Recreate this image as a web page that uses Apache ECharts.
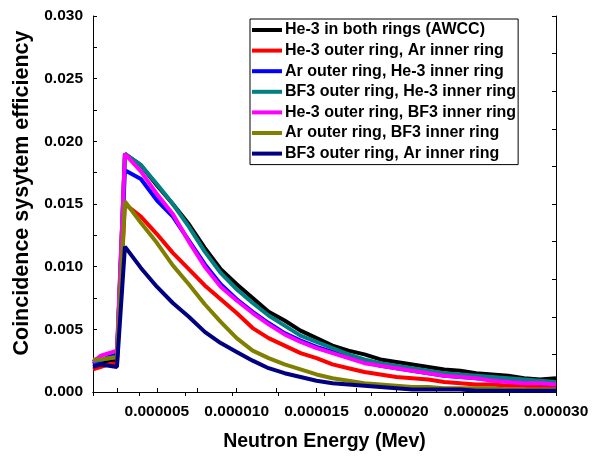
<!DOCTYPE html>
<html><head><meta charset="utf-8">
<script src="https://cdn.jsdelivr.net/npm/echarts@6/dist/echarts.min.js"></script>
<style>html,body{margin:0;padding:0;background:#fff}#c{width:598px;height:464px}</style>
</head><body><div id="c"></div>
<script>
// Neutron energy (MeV)
const energy = [1.0e-6,1.5e-6,2.0e-6,2.5e-6,3e-6,4e-6,5e-6,6e-6,7e-6,8e-6,9e-6,10e-6,11e-6,12e-6,13e-6,14e-6,15e-6,16e-6,17e-6,18e-6,19e-6,20e-6,21e-6,22e-6,23e-6,24e-6,25e-6,26e-6,27e-6,28e-6,29e-6,30e-6];
const names = ["He-3 in both rings (AWCC)","He-3 outer ring, Ar inner ring","Ar outer ring, He-3 inner ring","BF3 outer ring, He-3 inner ring","He-3 outer ring, BF3 inner ring","Ar outer ring, BF3 inner ring","BF3 outer ring, Ar inner ring"];
const colors = ["#000000","#ff0000","#0000ff","#008080","#ff00ff","#808000","#000080"];
const he3Both    = [0.0023,0.0024,0.0025,0.0026,0.0190,0.0181,0.0165,0.0150,0.0134,0.0115,0.0098,0.0086,0.0075,0.0064,0.0057,0.0049,0.0043,0.0037,0.0033,0.0030,0.0026,0.0024,0.0022,0.0020,0.0018,0.0017,0.0015,0.0014,0.0013,0.0011,0.0010,0.0011];
const he3OutArIn = [0.0018,0.0020,0.0022,0.0023,0.0150,0.0140,0.0126,0.0111,0.0098,0.0085,0.0074,0.0063,0.0051,0.0043,0.0037,0.0031,0.0027,0.0022,0.0019,0.0016,0.0014,0.0012,0.0011,0.0010,0.0008,0.0007,0.0006,0.0006,0.0005,0.0005,0.0004,0.0004];
const arOutHe3In = [0.0022,0.0025,0.0028,0.0030,0.0177,0.0170,0.0153,0.0140,0.0121,0.0102,0.0086,0.0074,0.0064,0.0055,0.0047,0.0041,0.0036,0.0032,0.0028,0.0024,0.0021,0.0019,0.0017,0.0015,0.0013,0.0012,0.0011,0.0010,0.0009,0.0008,0.0007,0.0006];
const bf3OutHe3In = [0.0024,0.0026,0.0027,0.0028,0.0190,0.0181,0.0166,0.0150,0.0132,0.0112,0.0095,0.0082,0.0071,0.0061,0.0053,0.0045,0.0040,0.0035,0.0030,0.0026,0.0023,0.0021,0.0019,0.0017,0.0015,0.0014,0.0013,0.0012,0.0011,0.0010,0.0009,0.0008];
const he3OutBf3In = [0.0024,0.0029,0.0031,0.0033,0.0190,0.0176,0.0158,0.0142,0.0120,0.0100,0.0084,0.0073,0.0063,0.0054,0.0046,0.0040,0.0035,0.0031,0.0027,0.0023,0.0021,0.0019,0.0017,0.0015,0.0013,0.0012,0.0011,0.0009,0.0008,0.0007,0.0007,0.0006];
const arOutBf3In = [0.0026,0.0026,0.0027,0.0028,0.0152,0.0135,0.0119,0.0101,0.0086,0.0070,0.0056,0.0043,0.0033,0.0027,0.0022,0.0018,0.0014,0.0011,0.0009,0.0007,0.0006,0.0005,0.0004,0.0004,0.0003,0.0003,0.0003,0.0003,0.0002,0.0002,0.0002,0.0002];
const bf3OutArIn = [0.0020,0.0022,0.0021,0.0020,0.0116,0.0099,0.0084,0.0071,0.0060,0.0048,0.0039,0.0032,0.0025,0.0019,0.0015,0.0012,0.0009,0.0007,0.0006,0.0005,0.0004,0.0003,0.0002,0.0002,0.0002,0.0002,0.0001,0.0001,0.0001,0.0001,0.0001,0.0001];
const seriesValues = [he3Both,he3OutArIn,arOutHe3In,bf3OutHe3In,he3OutBf3In,arOutBf3In,bf3OutArIn];
const xTicks = [2.5e-6,5e-6,7.5e-6,10e-6,12.5e-6,15e-6,17.5e-6,20e-6,22.5e-6,25e-6,27.5e-6,30e-6];
const xLabels = [5e-6,10e-6,15e-6,20e-6,25e-6,30e-6];
const yTicks = [0,0.0025,0.005,0.0075,0.01,0.0125,0.015,0.0175,0.02,0.0225,0.025,0.0275,0.03];
const yLabels = [0,0.005,0.01,0.015,0.02,0.025,0.03];

const FONT = "'Liberation Sans', Arial, sans-serif";
const chart = echarts.init(document.getElementById('c'), null, {renderer:'canvas'});
const axisLine = {show:true, lineStyle:{color:'#000', width:1}};
chart.setOption({
  animation:false,
  backgroundColor:'#fff',
  grid:{left:93, right:42, top:16, bottom:72, containLabel:false},
  legend:{
    orient:'vertical', left:250, top:19, icon:'rect', itemWidth:30, itemHeight:4, itemGap:4.6,
    padding:[3,2,3,2], borderColor:'#000', borderWidth:1, backgroundColor:'#fff',
    textStyle:{fontFamily:FONT, fontWeight:'bold', fontSize:16, color:'#000', padding:[0,0,0,-2]},
    data:names
  },
  xAxis:[{
    type:'value', min:1e-6, max:30e-6, position:'bottom',
    axisLine, splitLine:{show:false},
    axisTick:{show:true, inside:true, length:4, customValues:xTicks, lineStyle:{color:'#000'}},
    axisLabel:{show:true, customValues:xLabels, margin:12, fontFamily:FONT, fontWeight:'bold', fontSize:15.5, color:'#000',
      formatter:v=>v.toFixed(6)},
    name:'Neutron Energy (Mev)', nameLocation:'middle', nameGap:40,
    nameTextStyle:{fontFamily:FONT, fontWeight:'bold', fontSize:19.5, color:'#000'}
  },{
    type:'value', min:1e-6, max:30e-6, position:'top', interval:2.9e-6,
    axisLine, splitLine:{show:false}, axisLabel:{show:false},
    axisTick:{show:true, inside:true, length:4, lineStyle:{color:'#000'}}
  }],
  yAxis:[{
    type:'value', min:0, max:0.03, position:'left',
    axisLine, splitLine:{show:false},
    axisTick:{show:true, inside:true, length:4, customValues:yTicks, lineStyle:{color:'#000'}},
    axisLabel:{show:true, customValues:yLabels, margin:10, fontFamily:FONT, fontWeight:'bold', fontSize:15.5, color:'#000',
      formatter:v=>v.toFixed(3)},
    name:'Coincidence sysytem efficiency', nameLocation:'middle', nameGap:55,
    nameTextStyle:{fontFamily:FONT, fontWeight:'bold', fontSize:21.5, color:'#000', padding:[0,0,0,22]}
  },{
    type:'value', min:0, max:0.03, position:'right', interval:0.003,
    axisLine, splitLine:{show:false}, axisLabel:{show:false},
    axisTick:{show:true, inside:true, length:4, lineStyle:{color:'#000'}}
  }],
  series: names.map((n,i)=>({
    name:n, type:'line', xAxisIndex:0, yAxisIndex:0,
    data: energy.map((e,k)=>[e, seriesValues[i][k]]),
    showSymbol:false, symbol:'none',
    lineStyle:{color:colors[i], width:4}, itemStyle:{color:colors[i]},
    z: 2+i
  }))
});
</script></body></html>
